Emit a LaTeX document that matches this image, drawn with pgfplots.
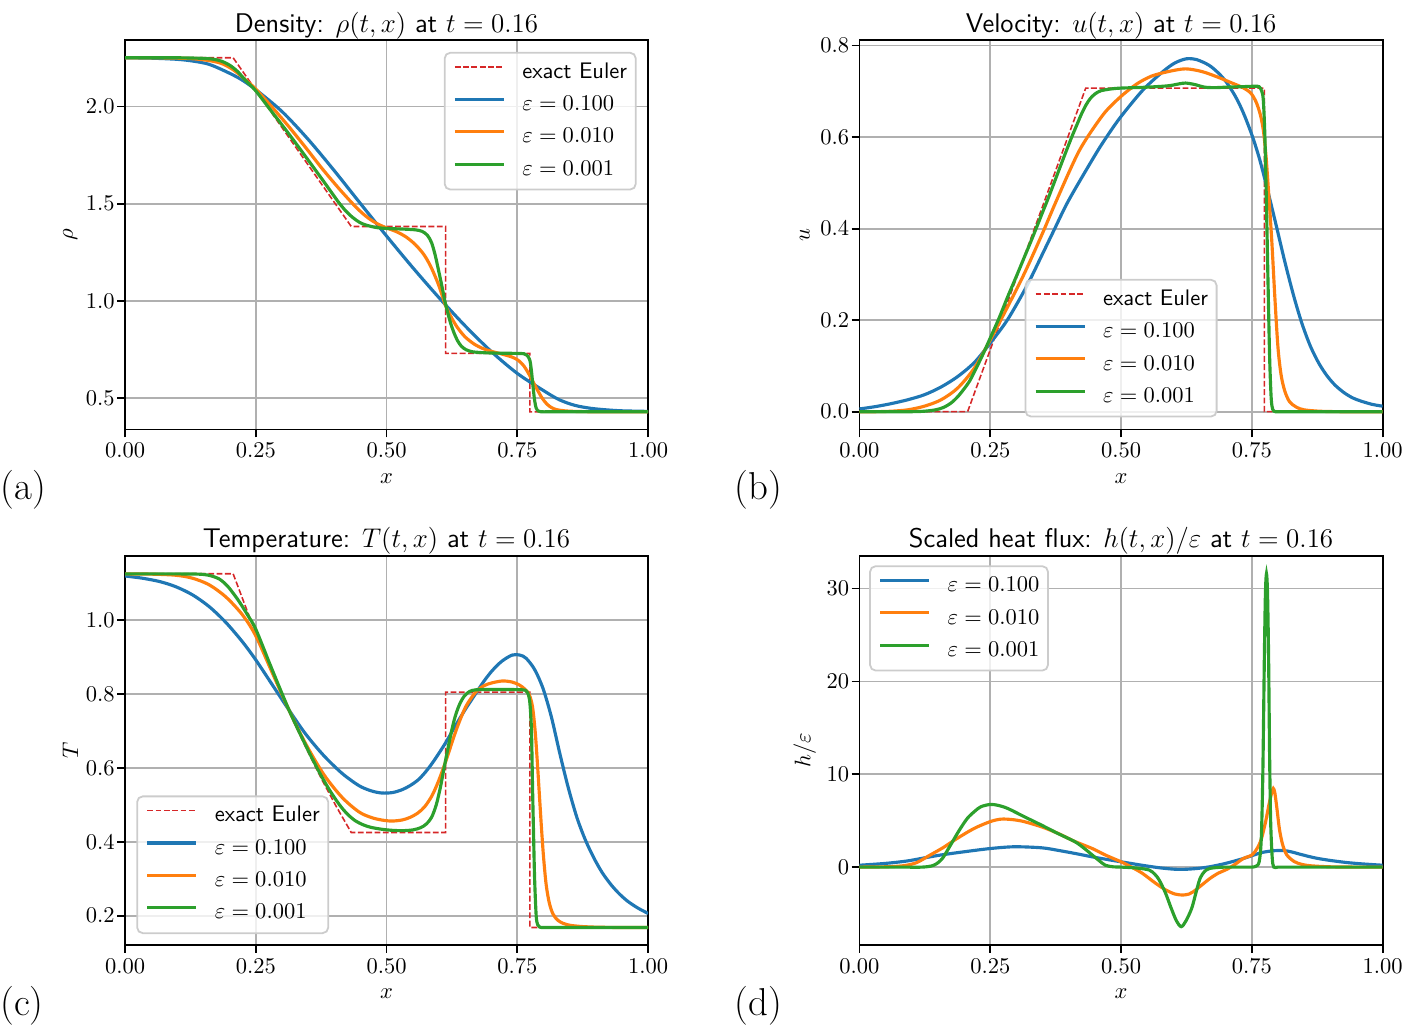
\documentclass[border=0pt]{standalone}
\usepackage{pgfplots}
\pgfplotsset{compat=1.18}
\definecolor{tabblue}{HTML}{1F77B4}
\definecolor{taborange}{HTML}{FF7F0E}
\definecolor{tabgreen}{HTML}{2CA02C}
\definecolor{tabred}{HTML}{D62728}
\definecolor{gridgray}{HTML}{B0B0B0}
\pgfplotsset{
  panel/.style={
    scale only axis, width=232.5pt, height=173pt,
    xmin=0, xmax=1,
    axis line style={black, line width=0.8pt},
    tick align=outside, tick pos=left,
    major tick length=3.5pt,
    every tick/.style={black, line width=0.8pt},
    grid=major,
    major grid style={gridgray, line width=0.8pt},
    xtick={0,0.25,0.5,0.75,1},
    xticklabel style={/pgf/number format/fixed,/pgf/number format/fixed zerofill,/pgf/number format/precision=2, anchor=north, inner sep=0pt, yshift=-2.5pt},
    yticklabel style={anchor=east, inner sep=0pt, xshift=-0.9pt},
    ticklabel style={font=\fontsize{10}{12}\selectfont},
    every axis title/.style={font=\sffamily\fontsize{12}{14.4}\selectfont, at={(0.5,1)}, anchor=base, yshift=3.6pt},
    every axis x label/.style={font=\fontsize{10}{12}\selectfont, at={(axis description cs:0.5,0)}, anchor=base, yshift=-23.9pt},
    every axis y label/.style={font=\fontsize{10}{12}\selectfont, at={(axis description cs:-0.1045,0.5)}, rotate=90, anchor=center},
    legend cell align=left,
    legend style={font=\sffamily\fontsize{10}{12}\selectfont, draw=black!20, line width=0.8pt, rounded corners=2.5pt, fill=white, fill opacity=0.8, text opacity=1, inner xsep=3.8pt, inner ysep=1.6pt, nodes={inner xsep=0pt, inner ysep=2pt, text height=7.7pt, text depth=2.7pt}, column sep=7.5pt},
    legend image code/.code={\draw[#1] (0pt,2.5pt) -- (21.8pt,2.5pt);},
  },
  exact/.style={tabred, line width=0.7pt, dash pattern=on 2.6pt off 1.1pt},
  eA/.style={tabblue, line width=1.4pt, smooth, tension=0.5},
  eB/.style={taborange, line width=1.4pt, smooth, tension=0.5},
  eC/.style={tabgreen, line width=1.4pt, smooth, tension=0.5},
}
\begin{document}
\begin{tikzpicture}
\useasboundingbox (0,0) rectangle (628.9pt,455.6pt);
% ---------------- (a) Density
\begin{axis}[panel, at={(55.56pt,264.75pt)}, anchor=south west,
  ymin=0.3405, ymax=2.3405, ytick={0.5,1,1.5,2},
  yticklabel style={/pgf/number format/fixed,/pgf/number format/fixed zerofill,/pgf/number format/precision=1},
  title={Density: $\rho(t,x)$ at $t=0.16$}, xlabel={$x$}, ylabel={$\rho$},
  legend style={at={(1,1)}, anchor=north east, xshift=-5.1pt, yshift=-5.2pt},
  legend entries={exact Euler,$\varepsilon=0.100$,$\varepsilon=0.010$,$\varepsilon=0.001$}]
\addplot[exact] coordinates {(0,2.25) (0.2067,2.25) (0.4325,1.383) (0.613,1.383) (0.613,0.731) (0.774,0.731) (0.774,0.431) (1,0.431)};
\addplot[eA] coordinates {(0,2.25) (0.05,2.248) (0.1,2.242) (0.13,2.233) (0.16,2.217) (0.19,2.183) (0.22,2.142) (0.25,2.086) (0.3,1.974) (0.35,1.831) (0.4,1.67) (0.45,1.501) (0.5,1.334) (0.55,1.172) (0.6,1.018) (0.65,0.873) (0.7,0.741) (0.75,0.628) (0.8,0.54) (0.83,0.493) (0.86,0.464) (0.89,0.449) (0.92,0.441) (0.95,0.436) (1.0,0.433)};
\addplot[eB] coordinates {(0,2.25) (0.05,2.25) (0.1,2.248) (0.13,2.245) (0.16,2.236) (0.183,2.222) (0.2,2.2) (0.215,2.172) (0.232,2.133) (0.25,2.089) (0.28,2.0) (0.312,1.9) (0.345,1.79) (0.377,1.68) (0.41,1.575) (0.441,1.484) (0.46,1.437) (0.474,1.41) (0.487,1.391) (0.5,1.376) (0.52,1.355) (0.538,1.328) (0.555,1.29) (0.571,1.24) (0.584,1.18) (0.597,1.1) (0.605,1.04) (0.613,0.975) (0.624,0.915) (0.635,0.866) (0.65,0.816) (0.668,0.778) (0.685,0.755) (0.7,0.742) (0.72,0.728) (0.74,0.712) (0.752,0.695) (0.762,0.668) (0.771,0.63) (0.78,0.585) (0.788,0.545) (0.797,0.503) (0.806,0.472) (0.815,0.453) (0.825,0.442) (0.84,0.436) (0.86,0.433) (0.9,0.431) (0.95,0.431) (1,0.431)};
\addplot[eC] coordinates {(0,2.25) (0.05,2.25) (0.1,2.25) (0.15,2.247) (0.17,2.242) (0.185,2.232) (0.2,2.212) (0.215,2.18) (0.23,2.135) (0.25,2.08) (0.28,1.975) (0.312,1.863) (0.345,1.743) (0.377,1.625) (0.395,1.557) (0.409,1.505) (0.422,1.463) (0.435,1.43) (0.448,1.405) (0.461,1.39) (0.48,1.378) (0.5,1.373) (0.53,1.37) (0.555,1.366) (0.568,1.358) (0.578,1.338) (0.586,1.3) (0.593,1.235) (0.6,1.15) (0.606,1.074) (0.611,1.005) (0.616,0.95) (0.622,0.89) (0.629,0.836) (0.636,0.795) (0.643,0.768) (0.652,0.75) (0.665,0.739) (0.69,0.734) (0.72,0.732) (0.75,0.731) (0.763,0.729) (0.769,0.72) (0.774,0.695) (0.777,0.64) (0.78,0.56) (0.783,0.49) (0.786,0.45) (0.79,0.435) (0.795,0.431) (0.81,0.431) (0.84,0.431) (0.88,0.431) (0.93,0.431) (1,0.431)};
\end{axis}
% ---------------- (b) Velocity
\begin{axis}[panel, at={(382pt,264.75pt)}, anchor=south west,
  ymin=-0.0387, ymax=0.8117, ytick={0,0.2,0.4,0.6,0.8},
  yticklabel style={/pgf/number format/fixed,/pgf/number format/fixed zerofill,/pgf/number format/precision=1},
  title={Velocity: $u(t,x)$ at $t=0.16$}, xlabel={$x$}, ylabel={$u$},
  legend style={at={(0.5,0)}, anchor=south, yshift=5.3pt},
  legend entries={exact Euler,$\varepsilon=0.100$,$\varepsilon=0.010$,$\varepsilon=0.001$}]
\addplot[exact] coordinates {(0,0) (0.2067,0) (0.4325,0.707) (0.774,0.707) (0.774,0) (1,0)};
\addplot[eA] coordinates {(0,0.006) (0.03,0.011) (0.06,0.0175) (0.092,0.026) (0.124,0.037) (0.156,0.054) (0.188,0.077) (0.22,0.108) (0.25,0.15) (0.283,0.201) (0.32,0.275) (0.35,0.345) (0.372,0.397) (0.4,0.462) (0.45,0.56) (0.474,0.603) (0.5,0.645) (0.542,0.703) (0.58,0.743) (0.603,0.762) (0.625,0.771) (0.645,0.769) (0.668,0.757) (0.685,0.741) (0.7,0.722) (0.718,0.69) (0.733,0.655) (0.75,0.605) (0.765,0.551) (0.781,0.48) (0.797,0.405) (0.813,0.328) (0.83,0.253) (0.846,0.192) (0.862,0.143) (0.878,0.106) (0.894,0.078) (0.91,0.057) (0.927,0.041) (0.943,0.03) (0.959,0.023) (0.98,0.016) (1,0.012)};
\addplot[eB] coordinates {(0,0) (0.03,0) (0.06,0.001) (0.092,0.004) (0.124,0.012) (0.156,0.026) (0.188,0.052) (0.22,0.096) (0.25,0.157) (0.284,0.231) (0.316,0.304) (0.348,0.385) (0.373,0.452) (0.4,0.522) (0.42,0.57) (0.441,0.609) (0.47,0.655) (0.5,0.689) (0.53,0.716) (0.558,0.733) (0.59,0.743) (0.623,0.749) (0.655,0.743) (0.687,0.73) (0.71,0.719) (0.733,0.708) (0.748,0.696) (0.758,0.677) (0.766,0.65) (0.772,0.615) (0.777,0.56) (0.782,0.48) (0.788,0.376) (0.794,0.25) (0.8,0.14) (0.806,0.08) (0.813,0.045) (0.822,0.022) (0.835,0.01) (0.85,0.004) (0.88,0.001) (0.92,0) (0.96,0) (1,0)};
\addplot[eC] coordinates {(0,0) (0.03,0) (0.06,0) (0.1,0) (0.124,0.001) (0.145,0.004) (0.16,0.009) (0.175,0.019) (0.188,0.033) (0.2,0.05) (0.21,0.066) (0.22,0.088) (0.235,0.123) (0.25,0.161) (0.267,0.205) (0.284,0.253) (0.3,0.296) (0.316,0.34) (0.332,0.384) (0.348,0.43) (0.362,0.47) (0.377,0.515) (0.392,0.56) (0.405,0.598) (0.416,0.628) (0.425,0.652) (0.433,0.67) (0.441,0.684) (0.45,0.694) (0.461,0.701) (0.48,0.705) (0.5,0.707) (0.55,0.709) (0.59,0.712) (0.61,0.716) (0.623,0.718) (0.64,0.715) (0.66,0.709) (0.68,0.708) (0.7,0.709) (0.73,0.71) (0.755,0.711) (0.764,0.71) (0.769,0.7) (0.772,0.68) (0.775,0.6) (0.778,0.45) (0.781,0.28) (0.784,0.12) (0.787,0.03) (0.79,0.005) (0.795,0) (0.805,0) (0.825,0) (0.86,0) (0.92,0) (1,0)};
\end{axis}
% ---------------- (c) Temperature
\begin{axis}[panel, at={(55.56pt,35.56pt)}, anchor=south west,
  ymin=0.1205, ymax=1.1735, ytick={0.2,0.4,0.6,0.8,1.0},
  yticklabel style={/pgf/number format/fixed,/pgf/number format/fixed zerofill,/pgf/number format/precision=1},
  title={Temperature: $T(t,x)$ at $t=0.16$}, xlabel={$x$}, ylabel={$T$},
  legend style={at={(0,0)}, anchor=south west, xshift=5pt, yshift=4.9pt},
  legend entries={exact Euler,$\varepsilon=0.100$,$\varepsilon=0.010$,$\varepsilon=0.001$}]
\addplot[exact] coordinates {(0,1.125) (0.2067,1.125) (0.235,1.019) (0.263,0.919) (0.291,0.8246) (0.319,0.7352) (0.347,0.6508) (0.376,0.5689) (0.404,0.495) (0.4325,0.425) (0.613,0.425) (0.613,0.805) (0.774,0.805) (0.774,0.168) (1,0.168)};
\addplot[eA] coordinates {(0,1.119) (0.033,1.113) (0.066,1.104) (0.097,1.09) (0.129,1.068) (0.161,1.036) (0.193,0.993) (0.225,0.94) (0.25,0.892) (0.28,0.828) (0.3136,0.756) (0.345,0.692) (0.38,0.633) (0.415,0.585) (0.447,0.552) (0.47,0.538) (0.49,0.532) (0.511,0.533) (0.53,0.541) (0.545,0.552) (0.56,0.567) (0.574,0.588) (0.59,0.618) (0.613,0.668) (0.63,0.71) (0.65,0.757) (0.67,0.8) (0.686,0.834) (0.702,0.863) (0.72,0.888) (0.74,0.905) (0.755,0.905) (0.767,0.896) (0.783,0.866) (0.799,0.815) (0.815,0.738) (0.831,0.64) (0.847,0.548) (0.864,0.465) (0.88,0.405) (0.896,0.357) (0.912,0.317) (0.929,0.284) (0.945,0.259) (0.961,0.239) (0.98,0.221) (1,0.206)};
\addplot[eB] coordinates {(0,1.1246) (0.05,1.124) (0.097,1.121) (0.129,1.113) (0.161,1.095) (0.193,1.062) (0.225,1.013) (0.25,0.957) (0.28,0.862) (0.3136,0.756) (0.345,0.666) (0.38,0.582) (0.415,0.52) (0.447,0.481) (0.47,0.466) (0.49,0.459) (0.51,0.456) (0.53,0.459) (0.545,0.466) (0.56,0.478) (0.573,0.495) (0.587,0.525) (0.599,0.563) (0.61,0.605) (0.618,0.638) (0.627,0.677) (0.637,0.717) (0.652,0.767) (0.67,0.804) (0.686,0.822) (0.702,0.83) (0.722,0.835) (0.74,0.832) (0.754,0.824) (0.765,0.812) (0.773,0.797) (0.779,0.765) (0.784,0.7) (0.788,0.62) (0.792,0.53) (0.796,0.44) (0.8,0.36) (0.805,0.285) (0.811,0.235) (0.818,0.205) (0.827,0.188) (0.838,0.179) (0.851,0.174) (0.87,0.171) (0.9,0.169) (0.95,0.168) (1,0.168)};
\addplot[eC] coordinates {(0,1.1246) (0.05,1.1246) (0.1,1.1246) (0.14,1.124) (0.16,1.121) (0.18,1.111) (0.195,1.093) (0.207,1.072) (0.22,1.046) (0.235,1.012) (0.25,0.975) (0.28,0.87) (0.3136,0.756) (0.345,0.662) (0.37,0.592) (0.39,0.542) (0.41,0.5) (0.425,0.475) (0.44,0.457) (0.455,0.446) (0.47,0.439) (0.49,0.434) (0.51,0.431) (0.53,0.43) (0.55,0.432) (0.565,0.438) (0.576,0.448) (0.586,0.466) (0.595,0.5) (0.603,0.548) (0.61,0.6) (0.617,0.65) (0.624,0.698) (0.631,0.738) (0.639,0.77) (0.648,0.793) (0.658,0.806) (0.67,0.811) (0.7,0.812) (0.73,0.812) (0.76,0.811) (0.767,0.808) (0.771,0.798) (0.774,0.775) (0.777,0.7) (0.779,0.55) (0.781,0.42) (0.783,0.3) (0.786,0.2) (0.789,0.175) (0.793,0.169) (0.8,0.168) (0.82,0.168) (0.86,0.168) (0.92,0.168) (1,0.168)};
\end{axis}
% ---------------- (d) Heat flux
\begin{axis}[panel, at={(382pt,35.56pt)}, anchor=south west,
  ymin=-8.40, ymax=33.53, ytick={0,10,20,30},
  title={Scaled heat flux: $h(t,x)/\varepsilon$ at $t=0.16$}, xlabel={$x$}, ylabel={$h/\varepsilon$},
  legend style={at={(0,1)}, anchor=north west, xshift=4.3pt, yshift=-4.2pt},
  legend entries={$\varepsilon=0.100$,$\varepsilon=0.010$,$\varepsilon=0.001$}]
\addplot[eA] coordinates {(0,0.2) (0.05,0.4) (0.09,0.65) (0.12,0.95) (0.155,1.3) (0.2,1.65) (0.25,2.0) (0.296,2.19) (0.348,2.08) (0.38,1.8) (0.412,1.47) (0.45,1.05) (0.5,0.57) (0.54,0.2) (0.573,-0.07) (0.6,-0.22) (0.618,-0.25) (0.645,-0.15) (0.67,0.04) (0.7,0.4) (0.734,0.93) (0.767,1.54) (0.79,1.75) (0.809,1.79) (0.825,1.65) (0.844,1.36) (0.87,1.0) (0.896,0.75) (0.93,0.5) (0.96,0.35) (1.0,0.2)};
\addplot[eB] coordinates {(0,0) (0.04,0.02) (0.07,0.08) (0.09,0.2) (0.11,0.5) (0.135,1.3) (0.16,2.1) (0.187,3.1) (0.219,4.16) (0.25,4.9) (0.271,5.17) (0.295,5.1) (0.316,4.88) (0.35,4.3) (0.38,3.62) (0.41,2.8) (0.445,2.0) (0.47,1.3) (0.5,0.57) (0.52,0.0) (0.541,-0.68) (0.565,-1.7) (0.586,-2.48) (0.603,-2.9) (0.618,-3.01) (0.63,-2.9) (0.638,-2.66) (0.655,-1.9) (0.67,-1.22) (0.686,-0.65) (0.702,-0.25) (0.718,0.3) (0.734,0.93) (0.75,1.3) (0.76,2.0) (0.768,3.0) (0.776,4.8) (0.783,6.8) (0.788,8.0) (0.791,8.47) (0.794,8.0) (0.798,6.3) (0.803,4.0) (0.809,2.4) (0.817,1.3) (0.831,0.6) (0.845,0.3) (0.863,0.14) (0.9,0.03) (0.95,0) (1,0)};
\addplot[eC] coordinates {(0,0) (0.04,0) (0.08,0) (0.12,0) (0.142,0.2) (0.158,0.9) (0.174,2.37) (0.19,3.9) (0.206,5.24) (0.22,6.0) (0.232,6.5) (0.25,6.75) (0.265,6.65) (0.284,6.3) (0.316,5.4) (0.348,4.52) (0.38,3.6) (0.412,2.73) (0.43,2.0) (0.445,1.3) (0.458,0.7) (0.47,0.2) (0.485,0.03) (0.5,0) (0.53,-0.1) (0.554,-0.32) (0.565,-0.8) (0.573,-1.4) (0.585,-2.8) (0.596,-4.45) (0.606,-5.8) (0.615,-6.42) (0.624,-5.8) (0.635,-4.45) (0.643,-2.8) (0.651,-1.22) (0.66,-0.45) (0.67,-0.14) (0.69,-0.02) (0.71,0) (0.73,0) (0.75,0) (0.758,0.1) (0.764,0.57) (0.768,3.0) (0.771,10.0) (0.774,22.8) (0.776,29.5) (0.778,31.6) (0.78,29.5) (0.782,22.8) (0.784,12.0) (0.786,4.88) (0.789,1.0) (0.792,0) (0.8,0) (0.82,0) (0.86,0) (0.92,0) (1,0)};
\end{axis}
% panel labels
\node[anchor=base west, inner sep=0pt, font=\fontsize{17.28}{20}\selectfont] at (0pt,233.8pt) {(a)};
\node[anchor=base west, inner sep=0pt, font=\fontsize{17.28}{20}\selectfont] at (326.4pt,233.8pt) {(b)};
\node[anchor=base west, inner sep=0pt, font=\fontsize{17.28}{20}\selectfont] at (0pt,4.44pt) {(c)};
\node[anchor=base west, inner sep=0pt, font=\fontsize{17.28}{20}\selectfont] at (326.4pt,4.44pt) {(d)};
\end{tikzpicture}
\end{document}
